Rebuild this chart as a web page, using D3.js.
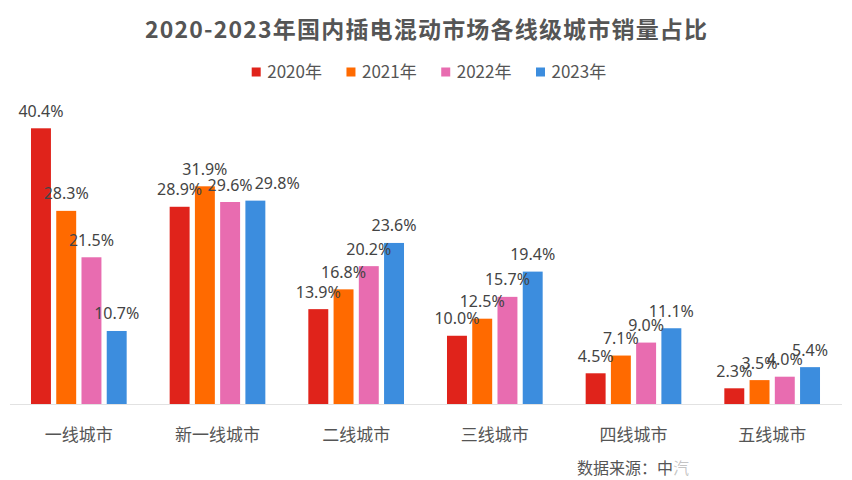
<!DOCTYPE html>
<html>
<head>
<meta charset="utf-8">
<script src="https://cdn.jsdelivr.net/npm/d3@7"></script>
<style>
  html, body { margin: 0; padding: 0; background: #fff; }
  svg { display: block; }
</style>
</head>
<body>
<svg id="chart" width="852" height="480"></svg>
<script>
const categories = ["一线城市", "新一线城市", "二线城市", "三线城市", "四线城市", "五线城市"];
const years = ["2020年", "2021年", "2022年", "2023年"];
const values2020 = [40.4, 28.9, 13.9, 10.0, 4.5, 2.3];
const values2021 = [28.3, 31.9, 16.8, 12.5, 7.1, 3.5];
const values2022 = [21.5, 29.6, 20.2, 15.7, 9.0, 4.0];
const values2023 = [10.7, 29.8, 23.6, 19.4, 11.1, 5.4];
const colors = ["#E0231B", "#FF6A00", "#E86CB0", "#3C8DDE"];
const titleText = "2020-2023年国内插电混动市场各线级城市销量占比";
const sourceText = "数据来源：中";

const seriesValues = [values2020, values2021, values2022, values2023];
const data = categories.map((c, i) => ({
  category: c,
  values: years.map((y, j) => ({ year: y, value: seriesValues[j][i], color: colors[j] }))
}));

const svg = d3.select("#chart");
const font = "'Noto Sans CJK SC', 'Noto Sans', sans-serif";
const numFont = "'Noto Sans', 'Open Sans', sans-serif";

const x0 = d3.scaleBand().domain(categories).range([9.5, 841.5]).paddingInner(0.31).paddingOuter(0.155);
const x1 = d3.scaleBand().domain(years).range([0, x0.bandwidth()]).paddingInner(0.21);
const y = d3.scaleLinear().domain([0, 40.4]).range([404, 128.3]);

// Title
svg.append("text")
  .attr("x", 145).attr("y", 37.5)
  .attr("textLength", 562).attr("lengthAdjust", "spacing")
  .style("font-family", font).style("font-size", "23px").style("font-weight", "bold")
  .style("fill", "#555")
  .text(titleText);

// Legend
const legend = svg.append("g");
const legendX = d3.scalePoint().domain(years).range([251.7, 536]);
years.forEach((yr, j) => {
  const g = legend.append("g").attr("transform", `translate(${legendX(yr)},0)`);
  g.append("rect").attr("x", 0).attr("y", 67.5).attr("width", 9).attr("height", 9).attr("fill", colors[j]);
  g.append("text").attr("x", 15.5).attr("y", 77.5)
    .style("font-family", font).style("font-size", "17px").style("fill", "#555")
    .text(yr);
});

// Axis
const xAxis = svg.append("g").attr("transform", `translate(0,${y(0)})`)
  .call(d3.axisBottom(x0).tickSize(0).tickSizeOuter(0));
xAxis.select(".domain").attr("stroke", "#e2e2e2").attr("stroke-width", 1);
xAxis.selectAll("text")
  .attr("y", 29).attr("dy", null)
  .attr("dominant-baseline", "central")
  .style("font-family", font).style("font-size", "17px").style("fill", "#555");

// Bars
const groups = svg.append("g").selectAll("g").data(data).join("g")
  .attr("transform", d => `translate(${x0(d.category)},0)`);

groups.selectAll("rect").data(d => d.values).join("rect")
  .attr("x", d => x1(d.year))
  .attr("y", d => y(d.value))
  .attr("width", x1.bandwidth())
  .attr("height", d => y(0) - y(d.value))
  .attr("fill", d => d.color);

const labels = groups.selectAll("text.val").data(d => d.values).join("text")
  .attr("class", "val")
  .attr("x", d => x1(d.year) + x1.bandwidth() / 2)
  .attr("y", d => y(d.value) - 11.5)
  .attr("text-anchor", "middle")
  .style("font-family", numFont).style("font-size", "16px").style("fill", "#444")
  .text(d => d.value.toFixed(1) + "%");

// Simple collision pass: labels sitting at (nearly) the same height get pushed right
groups.each(function () {
  const nodes = d3.select(this).selectAll("text.val").nodes();
  for (let i = 1; i < nodes.length; i++) {
    const a = nodes[i - 1].getBBox(), b = nodes[i].getBBox();
    if (Math.abs(a.y - b.y) < 2.5 && a.x + a.width + 2 > b.x) {
      const shift = a.x + a.width + 2 - b.x;
      nodes[i].setAttribute("x", +nodes[i].getAttribute("x") + shift);
    }
  }
});

// Source
const src = svg.append("text")
  .attr("x", 577).attr("y", 467).attr("dominant-baseline", "central")
  .style("font-family", font).style("font-size", "16px").style("fill", "#555");
src.append("tspan").text(sourceText);
src.append("tspan").style("fill-opacity", 0.35).text("汽");
</script>
</body>
</html>
